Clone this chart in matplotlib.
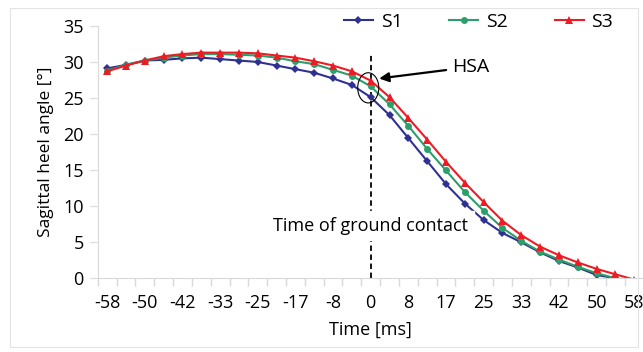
import matplotlib
matplotlib.use("Agg")
import matplotlib.pyplot as plt
from matplotlib.patches import Ellipse, Rectangle

plt.rcParams['font.family'] = ['Open Sans', 'DejaVu Sans']

# zeit [ms] fuer jeden messpunkt (240 Hz)
times = [-58, -54, -50, -46, -42, -38, -33, -29, -25, -21, -17, -13, -8, -4,
         0, 4, 8, 13, 17, 21, 25, 29, 33, 38, 42, 46, 50, 54, 58]

s1 = [29.1, 29.6, 30.2, 30.3, 30.5, 30.6, 30.4, 30.2, 30.0, 29.5, 29.0, 28.5,
      27.7, 26.8, 25.1, 22.6, 19.4, 16.2, 13.0, 10.3, 8.0, 6.2, 4.9, 3.5,
      2.3, 1.4, 0.35, -0.1, -0.8]
s2 = [28.8, 29.6, 30.2, 30.6, 30.9, 31.1, 31.1, 31.0, 30.9, 30.6, 30.1, 29.7,
      28.9, 28.1, 26.6, 24.1, 21.1, 17.9, 14.9, 11.9, 9.3, 6.9, 5.1, 3.6,
      2.5, 1.5, 0.6, -0.1, -0.7]
s3 = [28.7, 29.5, 30.2, 30.8, 31.1, 31.3, 31.3, 31.3, 31.2, 30.9, 30.6, 30.1,
      29.5, 28.7, 27.4, 25.1, 22.2, 19.2, 16.1, 13.2, 10.5, 7.9, 5.9, 4.3,
      3.1, 2.1, 1.2, 0.45, -0.3]

series = [
    ("S1", s1, "#2e3192", "D", 4),
    ("S2", s2, "#2e9e6a", "o", 5),
    ("S3", s3, "#ed1c24", "^", 6),
]

idx = list(range(len(times)))
contact = times.index(0)

fig = plt.figure(figsize=(6.43, 3.52), dpi=100)
ax = fig.add_axes([0.152, 0.2116, 0.849, 0.7144])

for name, vals, col, mk, ms in series:
    ax.plot(idx, vals, color=col, lw=1.5, marker=mk, ms=ms,
            markeredgewidth=0, label=name)

ax.set_xlim(-0.5, len(times) - 0.5)
ax.set_ylim(0, 35)
ax.set_yticks(range(0, 36, 5))
ax.set_xticks(idx[::2])
ax.set_xticklabels([str(t) for t in times[::2]])
ax.set_xticks([i - 0.5 for i in idx] + [len(times) - 0.5], minor=True)
ax.tick_params(axis='x', which='major', length=0, pad=12, labelsize=13)
ax.tick_params(axis='x', which='minor', length=6, color='#d9d9d9', width=1)
ax.tick_params(axis='y', length=6, color='#d9d9d9', labelsize=13, pad=4)

for s in ['top', 'right']:
    ax.spines[s].set_visible(False)
for s in ['left', 'bottom']:
    ax.spines[s].set_color('#d9d9d9')

ax.set_xlabel("Time [ms]", fontsize=13, labelpad=6)
ax.set_ylabel("Sagittal heel angle [°]", fontsize=12.5, labelpad=7)

# bodenkontakt
ax.plot([contact, contact], [0, 31.3], color='black', lw=1.3,
        ls=(0, (3, 2)), zorder=1)
ax.text(contact, 7.2, "Time of ground contact", ha='center', va='center',
        fontsize=13, backgroundcolor='white', zorder=4)

ax.add_patch(Ellipse((contact - 0.13, 26.4), 1.12, 4.2, fill=False,
                     color='black', lw=0.8, zorder=5))
ax.annotate("HSA", xy=(contact + 0.45, 27.7), xytext=(contact + 4.3, 29.3),
            fontsize=14, va='center', ha='left',
            arrowprops=dict(arrowstyle='-|>', color='black', lw=1.6,
                            shrinkA=2, shrinkB=0, mutation_scale=14))

fig.legend(*ax.get_legend_handles_labels(), loc='upper right',
           bbox_to_anchor=(621 / 643, 0.985), borderaxespad=0, ncol=3,
           frameon=False, fontsize=14, handlelength=1.5,
           columnspacing=2.4, handletextpad=0.4)

fig.patches.append(Rectangle((10 / 643, 1 - 347 / 352), 628 / 643, 339 / 352,
                             transform=fig.transFigure, fill=False,
                             edgecolor='#e3e3e3', lw=0.8))

fig.savefig("out.png", dpi=100)
